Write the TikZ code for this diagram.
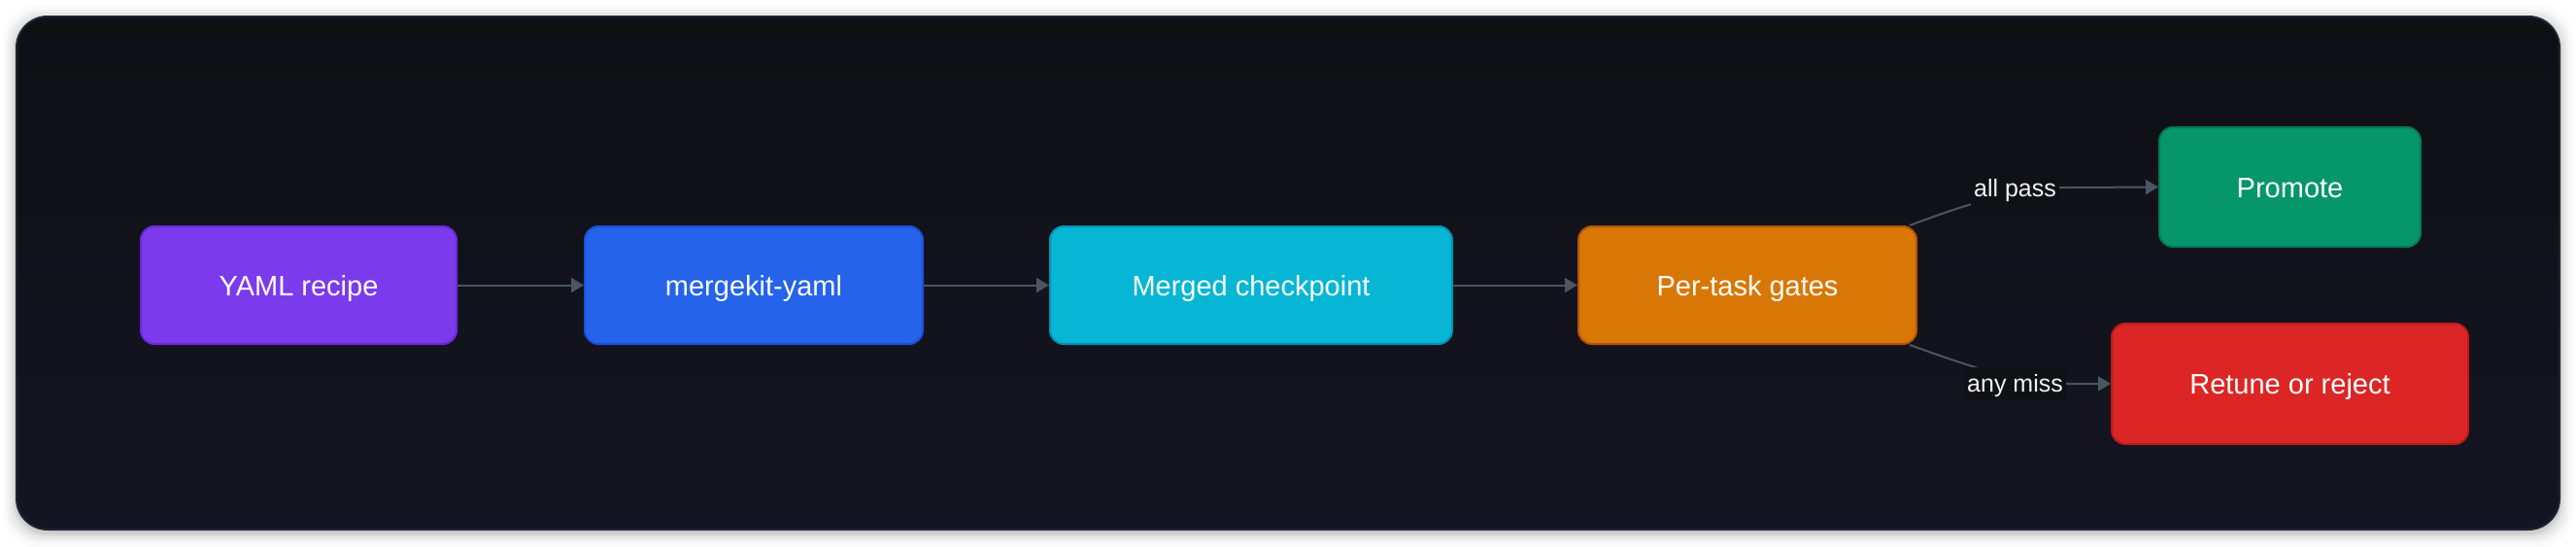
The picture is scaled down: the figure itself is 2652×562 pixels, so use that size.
\documentclass[tikz,border=0pt]{standalone}
\usepackage{fontspec}
\setmainfont{Liberation Sans}
\usetikzlibrary{arrows.meta}
\definecolor{pagebg}{HTML}{FFFFFF}
\definecolor{cardtop}{HTML}{0F1014}
\definecolor{cardbot}{HTML}{141522}
\definecolor{cardline}{HTML}{1E2433}
\definecolor{edgecol}{HTML}{4B5563}
\definecolor{labtext}{HTML}{F1F2F4}
\definecolor{labbg}{HTML}{101116}
\definecolor{cviolet}{HTML}{7C3AED}\definecolor{bviolet}{HTML}{6D28D9}
\definecolor{cblue}{HTML}{2563EB}\definecolor{bblue}{HTML}{1D4ED8}
\definecolor{ccyan}{HTML}{06B6D4}\definecolor{bcyan}{HTML}{0891B2}
\definecolor{corange}{HTML}{D97706}\definecolor{borange}{HTML}{B45309}
\definecolor{cgreen}{HTML}{059669}\definecolor{bgreen}{HTML}{047857}
\definecolor{cred}{HTML}{DC2626}\definecolor{bred}{HTML}{B91C1C}
\tikzset{
  box/.style={rounded corners=14pt, line width=2pt, text=white,
    font=\fontsize{29}{34}\selectfont, inner sep=0pt, minimum height=121pt,
    text height=21pt, text depth=0pt},
  edge/.style={draw=edgecol, line width=2pt,
    -{Triangle[length=13pt,width=15pt]}},
  elabel/.style={fill=labbg, text=labtext, font=\fontsize{25}{30}\selectfont,
    inner xsep=3pt, inner ysep=8pt, text height=18pt, text depth=0pt}
}
\begin{document}
\begin{tikzpicture}[x=1pt,y=-1pt]
\useasboundingbox (0,0) rectangle (2652,562);
\fill[pagebg] (0,0) rectangle (2652,562);
% shadow
\foreach \s/\o in {14/0.02,10/0.03,7/0.04,4/0.05,2/0.06}{
  \fill[black,opacity=\o,rounded corners=34pt] (17-\s,17-\s+3) rectangle (2635+\s,545+\s+3);
}
\shade[top color=cardtop,bottom color=cardbot,rounded corners=32pt]
  (17,17) rectangle (2635,545);
\draw[cardline,line width=2pt,rounded corners=32pt] (17,17) rectangle (2635,545);

\node[box,fill=cviolet,draw=bviolet,minimum width=325pt] (yaml) at (307.5,293.5) {YAML recipe};
\node[box,fill=cblue,draw=bblue,minimum width=348pt] (mk) at (776,293.5) {mergekit-yaml};
\node[box,fill=ccyan,draw=bcyan,minimum width=414pt] (merged) at (1288,293.5) {Merged checkpoint};
\node[box,fill=corange,draw=borange,minimum width=348pt] (gates) at (1799,293.5) {Per-task gates};
\node[box,fill=cgreen,draw=bgreen,minimum width=269pt,minimum height=123pt] (promote) at (2357.5,192.5) {Promote};
\node[box,fill=cred,draw=bred,minimum width=367pt,minimum height=124pt] (retune) at (2357.5,395) {Retune or reject};

\draw[edge] (yaml.east) -- (mk.west);
\draw[edge] (mk.east) -- (merged.west);
\draw[edge] (merged.east) -- (gates.west);

\coordinate (gtop) at ([xshift=-8pt]gates.north east);
\coordinate (gbot) at ([xshift=-8pt]gates.south east);
\draw[edge] (gtop) .. controls (2030,208) and (2080,193) .. (2130,193) -- (promote.west);
\draw[edge] (gbot) .. controls (2030,378) and (2080,395) .. (2130,395) -- (retune.west);

\node[elabel] (lpass) at (2074.5,193.5) {all pass};
\node[elabel] (lmiss) at (2074.5,394.5) {any miss};
\end{tikzpicture}
\end{document}
